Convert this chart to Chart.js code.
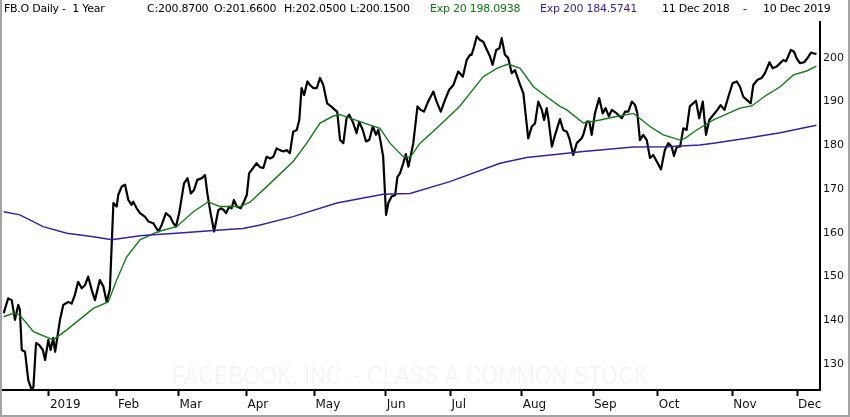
<!DOCTYPE html>
<html>
<head>
<meta charset="utf-8">
<script src="https://cdn.jsdelivr.net/npm/chart.js@4.4.1/dist/chart.umd.min.js"></script>
<style>
  body { margin: 0; background: #fff; }
  #wrap { position: relative; width: 850px; height: 417px; overflow: hidden; }
  #frame { position: absolute; left: 0; top: 0; width: 846px; height: 415px;
           border-left: 2px solid #a4a4a4; border-right: 2px solid #a4a4a4;
           border-bottom: 2px solid #a4a4a4; pointer-events: none; }
  .hd { position: absolute; top: 2px; font: 11px "DejaVu Sans", sans-serif;
        letter-spacing: -0.25px; white-space: pre; color: #000; }
</style>
</head>
<body>
<div id="wrap">
  <canvas id="chart" width="850" height="417"></canvas>
  <span class="hd" style="left:4px">FB.O Daily -  1 Year</span>
  <span class="hd" style="left:147px">C:200.8700</span>
  <span class="hd" style="left:214px">O:201.6600</span>
  <span class="hd" style="left:284px">H:202.0500</span>
  <span class="hd" style="left:350px">L:200.1500</span>
  <span class="hd" style="left:430px;color:#0c7a12">Exp 20 198.0938</span>
  <span class="hd" style="left:540px;color:#3a1d8e">Exp 200 184.5741</span>
  <span class="hd" style="left:662px">11 Dec 2018</span>
  <span class="hd" style="left:743px">-</span>
  <span class="hd" style="left:763px">10 Dec 2019</span>
  <div id="frame"></div>
</div>
<script>
// trading days since 11 Dec 2018
const closeDays = [
  0, 1.4, 2.5, 3.5, 4.5, 5.0, 5.6, 6.6, 7.6, 8.7,
  9.2, 10.0, 11.0, 12.1, 12.8, 13.8, 14.5, 15.3, 15.9, 17.4,
  18.4, 20.0, 21.0, 22.0, 23.0, 24.1, 25.1, 26.1, 27.2, 28.2,
  29.7, 30.8, 31.8, 32.8, 33.9, 34.9, 35.4, 36.5, 37.5, 38.5,
  39.5, 40.0, 41.1, 42.1, 43.6, 44.7, 46.2, 47.8, 48.8, 50.1,
  51.4, 52.4, 53.2, 54.2, 55.7, 56.8, 57.8, 58.8, 59.8, 61.2,
  62.2, 62.9, 63.9, 65.0, 66.3, 67.1, 68.0, 68.7, 69.7, 70.4,
  71.1, 72.0, 73.2, 74.2, 75.1, 75.8, 76.6, 78.1, 79.2, 80.2,
  81.2, 82.3, 83.3, 84.3, 85.3, 86.4, 87.4, 88.4, 89.4, 90.5,
  91.3, 92.0, 92.8, 93.8, 94.6, 95.6, 96.7, 97.7, 98.7, 99.9,
  101.3, 102.3, 103.0, 103.9, 104.9, 105.9, 106.7, 107.8, 109.0, 109.8,
  110.9, 111.9, 112.9, 114.0, 115.0, 115.7, 116.4, 117.2, 118.1, 118.8,
  119.8, 120.9, 121.6, 122.4, 123.4, 124.2, 125.0, 126.5, 127.8, 128.8,
  129.8, 131.1, 132.7, 133.7, 135.0, 136.3, 137.6, 138.9, 140.4, 141.8,
  143.0, 144.0, 144.5, 145.3, 146.1, 147.1, 148.1, 149.0, 150.2, 151.0,
  152.1, 153.1, 153.8, 154.8, 155.8, 156.9, 157.9, 159.5, 160.5, 162.0,
  163.1, 164.1, 165.1, 166.2, 166.9, 167.7, 168.2, 169.3, 170.3, 171.8,
  172.8, 173.9, 174.7, 175.9, 177.0, 178.5, 179.0, 180.1, 180.9, 181.6,
  182.6, 183.9, 185.0, 185.9, 186.9, 187.8, 189.3, 190.9, 191.9, 192.9,
  194.0, 195.0, 195.7, 196.5, 197.5, 198.6, 199.6, 200.6, 201.7, 203.0,
  204.2, 205.3, 206.3, 207.0, 207.9, 208.9, 209.9, 210.9, 211.9, 213.8,
  214.8, 215.9, 216.9, 217.9, 219.2, 220.4, 221.4, 222.6, 223.8, 225.1,
  226.4, 227.4, 228.4, 229.5, 230.7, 231.5, 232.8, 234.1, 235.1, 236.5,
  237.5, 238.7, 239.8, 240.8, 241.6, 243.1, 244.1, 244.9, 245.9, 247.2,
  248.2, 249.3, 250.3, 251
];
const closeValues = [
  141.6, 145.0, 144.6, 140.1, 143.5, 142.5, 133.2, 132.8, 126.3, 124.0,
  124.8, 134.8, 134.3, 133.2, 130.9, 135.5, 133.2, 135.9, 132.8, 140.1,
  143.5, 144.2, 143.8, 145.8, 148.8, 147.3, 148.0, 150.0, 146.9, 144.6,
  149.2, 147.7, 144.2, 147.0, 166.8, 166.0, 168.7, 170.6, 171.0, 167.5,
  166.4, 167.1, 165.6, 164.5, 163.7, 162.6, 162.2, 160.3, 161.8, 164.5,
  163.7, 162.2, 161.4, 164.5, 171.3, 172.5, 169.0, 169.8, 172.1, 172.5,
  173.2, 169.0, 164.5, 160.3, 165.2, 165.6, 165.2, 164.5, 166.0, 165.6,
  167.5, 166.0, 165.6, 167.1, 168.7, 173.6, 174.4, 175.9, 175.0, 174.8,
  177.4, 177.0, 177.4, 179.3, 178.9, 178.6, 178.9, 178.2, 183.1, 183.5,
  185.8, 193.1, 191.5, 194.6, 193.8, 193.1, 193.1, 195.4, 193.8, 189.6,
  188.8, 188.1, 187.7, 181.2, 180.5, 186.2, 187.0, 185.4, 182.8, 185.4,
  183.5, 180.9, 181.2, 184.3, 182.4, 183.5, 180.9, 177.4, 164.1, 166.8,
  168.3, 168.6, 172.8, 173.6, 175.9, 178.0, 175.1, 180.5, 188.9, 188.1,
  187.7, 190.0, 192.3, 190.0, 187.7, 190.4, 192.7, 193.8, 196.9, 195.7,
  199.5, 200.7, 200.7, 202.6, 204.9, 204.1, 203.7, 202.2, 200.3, 198.4,
  201.8, 202.2, 204.5, 200.7, 200.0, 196.5, 197.2, 193.8, 191.9, 181.6,
  184.3, 185.0, 190.0, 188.1, 185.8, 188.5, 186.2, 179.7, 182.4, 186.0,
  183.5, 183.1, 181.6, 177.8, 180.5, 181.6, 182.4, 185.4, 185.4, 182.4,
  187.3, 190.8, 187.3, 188.5, 186.6, 188.1, 187.3, 186.2, 187.7, 187.7,
  190.0, 189.2, 187.3, 181.2, 182.4, 181.2, 177.1, 177.8, 176.3, 174.5,
  179.0, 180.5, 179.7, 177.6, 179.7, 179.7, 183.9, 183.5, 188.9, 190.2,
  186.2, 190.0, 182.4, 185.8, 187.0, 188.1, 189.2, 188.1, 191.1, 194.2,
  194.6, 193.4, 191.1, 190.4, 189.6, 193.8, 195.0, 195.4, 196.5, 199.0,
  197.6, 198.0, 198.8, 199.5, 199.2, 201.8, 201.4, 199.9, 198.8, 199.0,
  199.9, 201.2, 201.0, 200.87
];

const ema20Days = [0, 3.0, 5.0, 9.2, 15.3, 19.5, 27.7, 32.3, 34.9, 38.0, 42.1, 47.8, 53.4, 58.6,
  63.2, 66.8, 73.0, 76.1, 82.3, 89.4, 93.6, 97.7, 101.8, 103.9, 110.0, 116.2, 119.3, 123.4,
  125.5, 128.6, 133.7, 140.8, 148.1, 152.3, 155.8, 159.5, 163.6, 167.7, 171.8, 173.9, 179.0,
  184.2, 189.3, 194.5, 199.6, 203.7, 208.9, 210.4, 214.0, 219.2, 227.4, 231.0, 235.6, 239.8,
  243.9, 248.0, 251];
const ema20Values = [140.8, 141.6, 141.2, 137.4, 135.5, 137.8, 142.7, 144.2, 149.2, 154.5, 158.4, 160.3, 161.4, 164.8,
  167.1, 166.0, 166.0, 167.0, 171.3, 176.3, 180.5, 185.1, 186.7, 187.0, 185.4, 183.9, 180.5, 177.4,
  177.2, 180.5, 183.9, 188.9, 195.7, 197.6, 198.6, 197.6, 193.4, 191.1, 188.9, 188.1, 185.1,
  185.8, 186.6, 187.3, 184.3, 182.4, 181.2, 181.6, 183.5, 185.8, 188.5, 189.0, 191.5, 193.4,
  196.1, 197.0, 198.09];

const ema200Days = [0, 5.0, 12.2, 19.5, 27.7, 33.4, 42.1, 45.2, 55.5, 65.8, 73.9, 79.2, 89.4, 102.9,
  117.2, 125.5, 137.8, 153.3, 161.5, 171.8, 179.0, 194.5, 204.8, 215.0, 219.2, 229.5, 239.8, 251];
const ema200Values = [164.8, 164.1, 161.4, 159.9, 159.1, 158.4, 159.3, 159.5, 160.0, 160.6, 161.0, 161.8, 163.7, 166.8,
  168.8, 169.0, 171.7, 175.9, 177.2, 178.0, 178.6, 179.6, 179.7, 180.1, 180.5, 181.6, 182.9, 184.57];

// first trading day of each month
const monthTickDays = [14, 35, 54, 75, 96, 118, 138, 160, 182, 202, 225, 245];
const monthTickLabels = ['2019', 'Feb', 'Mar', 'Apr', 'May', 'Jun', 'Jul', 'Aug', 'Sep', 'Oct', 'Nov', 'Dec'];
const priceTicks = [130, 140, 150, 160, 170, 180, 190, 200];

const watermark = 'FACEBOOK, INC. - CLASS A COMMON STOCK';

function pts(days, vals) {
  return days.map((d, i) => ({ x: d, y: vals[i] }));
}

const watermarkPlugin = {
  id: 'watermark',
  beforeDatasetsDraw(chart) {
    const ctx = chart.ctx;
    ctx.save();
    ctx.fillStyle = '#f5f5f5';
    ctx.font = '26px "Liberation Sans Narrow", "Liberation Sans", sans-serif';
    ctx.textAlign = 'center';
    ctx.textBaseline = 'middle';
    ctx.fillText(watermark, 410, 377, 477);
    ctx.restore();
  }
};

new Chart(document.getElementById('chart'), {
  type: 'line',
  data: {
    datasets: [
      {
        label: 'Exp 200',
        data: pts(ema200Days, ema200Values),
        borderColor: '#3b1fa0',
        borderWidth: 1.5,
        pointRadius: 0,
        tension: 0
      },
      {
        label: 'Exp 20',
        data: pts(ema20Days, ema20Values),
        borderColor: '#127a18',
        borderWidth: 1.4,
        pointRadius: 0,
        tension: 0
      },
      {
        label: 'FB.O',
        data: pts(closeDays, closeValues),
        borderColor: '#000',
        borderWidth: 2.2,
        pointRadius: 0,
        tension: 0,
        borderJoinStyle: 'round'
      }
    ]
  },
  options: {
    responsive: false,
    animation: false,
    layout: { padding: { left: 3, top: 22, right: 0, bottom: 0 } },
    plugins: { legend: { display: false }, tooltip: { enabled: false } },
    scales: {
      x: {
        type: 'linear',
        min: -0.2,
        max: 252.1,
        afterBuildTicks: s => { s.ticks = monthTickDays.map(v => ({ value: v })); },
        afterFit: s => { s.height = 27; },
        grid: { drawOnChartArea: false, tickLength: 6, tickColor: '#000', tickWidth: 2 },
        border: { color: '#000', width: 2 },
        ticks: {
          autoSkip: false,
          maxRotation: 0,
          align: 'start',
          labelOffset: 1,
          padding: 2,
          color: '#111',
          font: { family: 'DejaVu Sans', size: 12 },
          callback: v => monthTickLabels[monthTickDays.indexOf(v)]
        }
      },
      y: {
        position: 'right',
        min: 124.05,
        max: 208.2,
        afterBuildTicks: s => { s.ticks = priceTicks.map(v => ({ value: v })); },
        afterFit: s => { s.width = 30; },
        grid: { drawOnChartArea: false, drawTicks: false },
        border: { color: '#000', width: 2 },
        ticks: {
          padding: 3,
          color: '#111',
          font: { family: 'DejaVu Sans', size: 11 }
        }
      }
    }
  },
  plugins: [watermarkPlugin]
});
</script>
</body>
</html>
